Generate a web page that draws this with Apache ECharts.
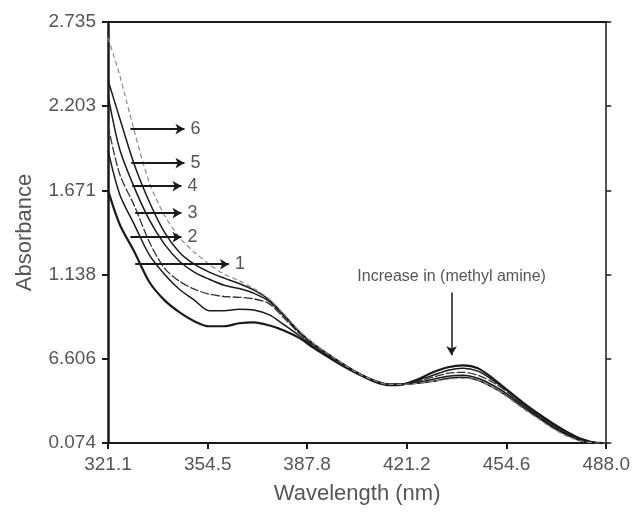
<!DOCTYPE html>
<html lang="en">
  <head>
    <meta charset="UTF-8" />
    <title>Absorbance spectra</title>
    <script src="https://cdn.jsdelivr.net/npm/echarts@6.0.0/dist/echarts.min.js"></script>
    <style>
      body { margin: 0; background: #fff; }
    </style>
  </head>

  <body>
    <div id="main" style="width: 633px; height: 513px"></div>

    <script type="text/javascript">
      // wavelength grid (nm) and absorbance
      const wavelengths = [321.1, 325, 330, 335, 340, 345, 350, 355, 360, 365, 370, 375, 380, 385, 390, 395, 400, 405, 410, 415, 420, 425, 430, 435, 440, 445, 450, 455, 460, 465, 470, 475, 480, 485, 488];

      const curve1 = [1.672, 1.457, 1.280, 1.090, 0.977, 0.901, 0.844, 0.812, 0.812, 0.831, 0.837, 0.818, 0.785, 0.740, 0.675, 0.616, 0.559, 0.509, 0.464, 0.439, 0.445, 0.477, 0.521, 0.553, 0.565, 0.547, 0.483, 0.407, 0.331, 0.262, 0.199, 0.142, 0.097, 0.075, 0.074];
      const curve2 = [1.925, 1.647, 1.451, 1.261, 1.141, 1.046, 0.977, 0.910, 0.910, 0.920, 0.915, 0.885, 0.822, 0.755, 0.680, 0.622, 0.565, 0.515, 0.471, 0.445, 0.445, 0.471, 0.502, 0.534, 0.547, 0.528, 0.471, 0.401, 0.325, 0.256, 0.192, 0.142, 0.097, 0.075, 0.074];
      const curve3 = [2.083, 1.774, 1.571, 1.343, 1.179, 1.097, 1.046, 1.015, 1.000, 0.995, 0.985, 0.955, 0.865, 0.770, 0.688, 0.629, 0.565, 0.515, 0.471, 0.445, 0.445, 0.464, 0.490, 0.515, 0.521, 0.502, 0.458, 0.395, 0.319, 0.249, 0.186, 0.135, 0.091, 0.074, 0.074];
      const curve4 = [2.273, 1.932, 1.685, 1.483, 1.331, 1.223, 1.154, 1.109, 1.071, 1.050, 1.020, 0.970, 0.878, 0.778, 0.695, 0.629, 0.572, 0.515, 0.471, 0.445, 0.445, 0.458, 0.477, 0.496, 0.502, 0.483, 0.439, 0.382, 0.312, 0.243, 0.180, 0.129, 0.091, 0.074, 0.074];
      const curve5 = [2.368, 2.128, 1.830, 1.596, 1.407, 1.280, 1.204, 1.154, 1.116, 1.082, 1.040, 0.980, 0.885, 0.782, 0.700, 0.635, 0.572, 0.515, 0.471, 0.445, 0.445, 0.452, 0.464, 0.483, 0.490, 0.471, 0.426, 0.369, 0.300, 0.237, 0.173, 0.123, 0.085, 0.074, 0.074];
      const curve6 = [2.634, 2.400, 2.039, 1.717, 1.514, 1.375, 1.280, 1.204, 1.141, 1.100, 1.050, 0.985, 0.890, 0.786, 0.702, 0.635, 0.572, 0.515, 0.471, 0.445, 0.445, 0.452, 0.464, 0.477, 0.483, 0.471, 0.426, 0.363, 0.293, 0.230, 0.167, 0.116, 0.085, 0.074, 0.074];

      // axis ticks as printed (the 0.606 tick is printed as 6.606 in the original)
      const xTicks = [321.1, 354.5, 387.8, 421.2, 454.6, 488.0];
      const xTickLabels = ["321.1", "354.5", "387.8", "421.2", "454.6", "488.0"];
      const yTicks = [0.074, 0.606, 1.138, 1.671, 2.203, 2.735];
      const yTickLabels = ["0.074", "6.606", "1.138", "1.671", "2.203", "2.735"];

      // numbered arrows on the left
      const arrowLabels = ["1", "2", "3", "4", "5", "6"];
      const arrowY = [1.204, 1.375, 1.527, 1.698, 1.843, 2.058];
      const arrowStart = [330.2, 328.6, 330.2, 329.2, 328.9, 328.6];
      const arrowEnd = [361.6, 345.7, 345.7, 345.7, 346.7, 346.7];

      // "increase" note and its arrow
      const noteText = "Increase in (methyl amine)";
      const noteX = 436.2;
      const noteTop = 1.025;
      const noteBottom = 0.629;

      const ink = "#1a1a1a";
      const grey = "#555";
      const font = "Liberation Sans, Arial, sans-serif";

      function pickLabel(ticks, labels, v) {
        let best = 0;
        ticks.forEach((t, i) => {
          if (Math.abs(t - v) < Math.abs(ticks[best] - v)) best = i;
        });
        return labels[best];
      }

      const curves = [curve1, curve2, curve3, curve4, curve5, curve6];
      const styles = [
        { width: 2.2, color: ink, type: "solid" },
        { width: 1.5, color: ink, type: "solid" },
        { width: 1.3, color: "#333", type: [9, 2] },
        { width: 1.5, color: ink, type: "solid" },
        { width: 1.5, color: ink, type: "solid" },
        { width: 1.2, color: "#8a8a8a", type: [5, 3] },
      ];

      const series = curves.map((c, k) => ({
        name: "curve " + (k + 1),
        type: "line",
        smooth: 0.3,
        showSymbol: false,
        silent: true,
        lineStyle: styles[k],
        data: wavelengths.map((w, i) => [w, c[i]]),
      }));

      // annotations ride on the first series as mark lines
      series[0].markLine = {
        silent: true,
        animation: false,
        symbol: ["none", "arrow"],
        symbolSize: [8, 9],
        lineStyle: { color: ink, width: 2, type: "solid" },
        label: { show: true, position: "end", distance: 6, color: grey, fontSize: 18, fontFamily: font, formatter: "{b}" },
        data: arrowLabels
          .map((name, i) => [
            { name: name, coord: [arrowStart[i], arrowY[i]] },
            { coord: [arrowEnd[i], arrowY[i]] },
          ])
          .concat([
            [
              {
                name: noteText,
                coord: [noteX, noteTop],
                lineStyle: { width: 1.5 },
                label: { position: "start", distance: 8, fontSize: 16 },
              },
              { coord: [noteX, noteBottom] },
            ],
          ]),
      };

      const axisLabelStyle = { color: grey, fontSize: 19, fontFamily: font };

      let myChart = echarts.init(document.getElementById("main"));
      myChart.setOption({
        animation: false,
        backgroundColor: "#fff",
        grid: { left: 108, right: 8, top: 22, bottom: 70 },
        xAxis: [
          {
            type: "value",
            min: 321.1,
            max: 488.0,
            name: "Wavelength (nm)",
            nameLocation: "middle",
            nameGap: 40,
            nameTextStyle: { color: grey, fontSize: 22, fontFamily: font },
            axisLine: { lineStyle: { color: ink, width: 2 } },
            axisTick: { length: 6, lineStyle: { color: ink, width: 2 }, customValues: xTicks },
            axisLabel: Object.assign({ margin: 12, customValues: xTicks, formatter: (v) => pickLabel(xTicks, xTickLabels, v) }, axisLabelStyle),
            splitLine: { show: false },
          },
          {
            type: "value",
            position: "top",
            min: 321.1,
            max: 488.0,
            axisLine: { show: true, lineStyle: { color: ink, width: 2 } },
            axisTick: { show: false },
            axisLabel: { show: false },
            splitLine: { show: false },
          },
        ],
        yAxis: [
          {
            type: "value",
            min: 0.074,
            max: 2.735,
            name: "Absorbance",
            nameLocation: "middle",
            nameGap: 72,
            nameTextStyle: { color: grey, fontSize: 22, fontFamily: font },
            axisLine: { show: true, lineStyle: { color: ink, width: 2.5 } },
            axisTick: { show: true, length: 6, lineStyle: { color: ink, width: 2 }, customValues: yTicks },
            axisLabel: Object.assign({ margin: 12, customValues: yTicks, formatter: (v) => pickLabel(yTicks, yTickLabels, v) }, axisLabelStyle),
            splitLine: { show: false },
          },
          {
            type: "value",
            position: "right",
            min: 0.074,
            max: 2.735,
            axisLine: { show: true, lineStyle: { color: ink, width: 1.5 } },
            axisTick: { show: true, length: 5, lineStyle: { color: ink, width: 1.5 }, customValues: yTicks },
            axisLabel: { show: false },
            splitLine: { show: false },
          },
        ],
        series: series,
      });
    </script>
  </body>
</html>
